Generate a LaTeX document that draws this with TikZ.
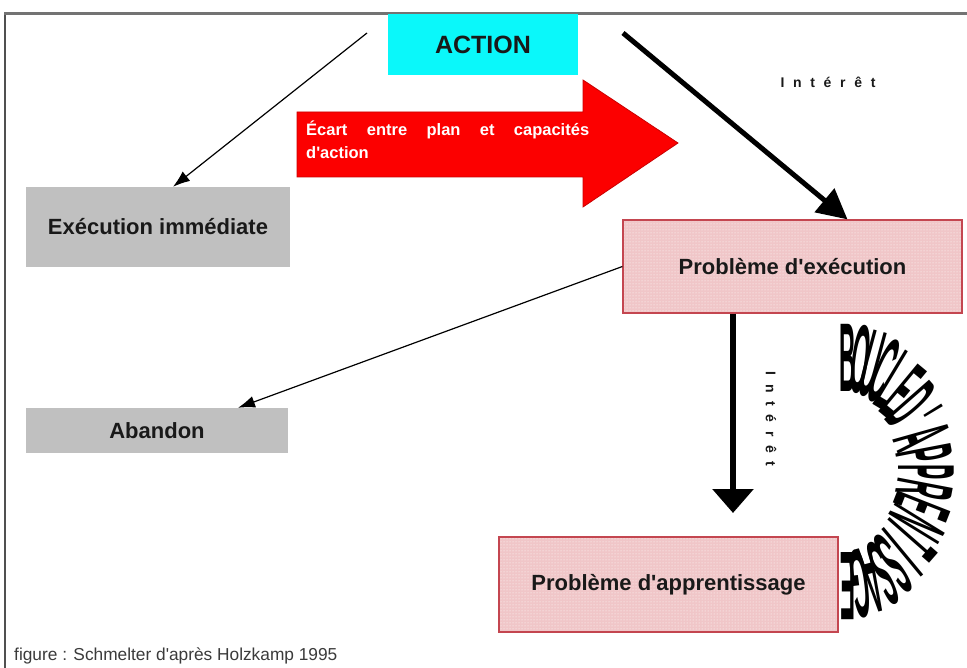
\documentclass[tikz,border=0pt]{standalone}
\usepackage{fontspec}
\setmainfont{Liberation Sans}
\usetikzlibrary{arrows.meta,patterns,calc}
\definecolor{cyanbox}{RGB}{10,248,250}
\definecolor{graybox}{RGB}{192,192,192}
\definecolor{pinkbox}{RGB}{240,198,200}
\definecolor{pinkline}{RGB}{196,70,80}
\definecolor{redarr}{RGB}{252,0,0}
\definecolor{txt}{RGB}{25,25,25}
\definecolor{framecol}{RGB}{80,80,80}
\newcommand\labfont{\fontsize{22}{26}\selectfont\bfseries}
\newcommand\bcfont{\fontsize{24}{24}\selectfont\bfseries}
\newcommand\apos{\textquotesingle}
\begin{document}
\begin{tikzpicture}[x=1pt,y=-1pt,
  graybx/.style={fill=graybox, inner sep=0pt, text=txt, font=\labfont},
  pinkbx/.style={preaction={fill=pinkbox}, pattern=dots, pattern color=white, draw=pinkline, line width=1.2pt, inner sep=0pt, text=txt, font=\labfont},
  cyanbx/.style={fill=cyanbox, inner sep=0pt, text=txt, font=\fontsize{25}{28}\selectfont\bfseries},
  thinarr/.style={line width=1.2pt, -{Latex[length=17pt,width=12pt]}},
  thickarr/.style={line width=5pt, -{Triangle[length=30pt,width=30pt]}},
  vertarr/.style={line width=6pt, -{Triangle[length=24pt,width=40pt]}},
  interet/.style={font=\fontsize{14}{16}\selectfont\bfseries\addfontfeature{LetterSpace=62}, text=txt, inner sep=0pt}
]
\useasboundingbox (0,0) rectangle (967,668);
\fill[white] (0,0) rectangle (967,668);
% frame
\draw[framecol, line width=2pt] (5,668) -- (5,14);
\draw[framecol!80, line width=3pt] (4,14) -- (967,14);

% boxes
\node[cyanbx, minimum width=190pt, minimum height=61pt] (action) at (483,44.5) {ACTION};
\node[graybx, minimum width=264pt, minimum height=80pt] (exec) at (158,227) {Exécution immédiate};
\node[pinkbx, minimum width=339pt, minimum height=93pt] (pe) at (792.5,266.5) {Problème d\apos exécution};
\node[graybx, minimum width=262pt, minimum height=45pt] (ab) at (157,430.5) {Abandon};
\node[pinkbx, minimum width=339pt, minimum height=95pt] (pa) at (668.5,584.5) {Problème d\apos apprentissage};

% red arrow
\draw[fill=redarr, draw=redarr!80!black, line width=0.8pt]
  (297,112) -- (583,112) -- (583,80) -- (678,143) -- (583,207) -- (583,177) -- (297,177) -- cycle;
\node[anchor=north west, text width=283pt, align=justify, inner sep=0pt, text=white,
  font=\fontsize{16.5}{23}\selectfont\bfseries] (ecart) at (306,121)
  {Écart entre plan et capacités\linebreak d\apos action};

% connectors
\coordinate (s1) at (367,33);
\draw[thinarr] (s1) -- ([xshift=15pt]exec.north);
\coordinate (s2) at (623,33);
\draw[thickarr] (s2) -- ([xshift=55pt]pe.north);
\draw[thinarr] (pe.west) -- ([xshift=81pt]ab.north);
\coordinate (t4) at (733,513);
\draw[vertarr] (pe.south -| t4) -- (t4);

% labels
\node[interet] (i1) at (828,82) {Intérêt};
\node[interet, rotate=-90] (i2) at (771,419) {Intérêt};

% boucle d'apprentissage
\foreach \ch [count=\k from 0] in {B,O,U,C,L,E,D,\apos,A,P,P,R,E,N,T,I,S,S,A,G,E} {
  \pgfmathsetmacro\th{90-9*\k}
  \pgfmathsetmacro\xi{848+50*cos(\th)}
  \pgfmathsetmacro\yi{472-80*sin(\th)}
  \pgfmathsetmacro\ddx{58*cos(\th)}
  \pgfmathsetmacro\ddy{70*sin(\th)}
  \pgfmathsetmacro\ang{atan2(\ddy,\ddx)}
  \pgfmathsetmacro\hh{veclen(\ddx,\ddy)/17.2}
  \node[anchor=base, inner sep=0pt, rotate=\ang-90, xscale=0.95, yscale=\hh, font=\bcfont] (bc\k) at (\xi,\yi) {\ch};
}

% caption
\node[anchor=base west, inner sep=0pt, text=txt!85, font=\fontsize{17.3}{20}\selectfont] (cap) at (14,660) {figure : Schmelter d\apos après Holzkamp 1995};
\end{tikzpicture}
\end{document}
